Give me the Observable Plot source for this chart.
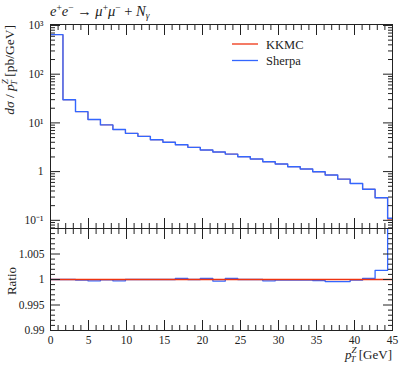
<!DOCTYPE html>
<html>
<head>
<meta charset="utf-8">
<script src="https://cdn.jsdelivr.net/npm/d3@7"></script>
<script src="https://cdn.jsdelivr.net/npm/@observablehq/plot@0.6"></script>
<style>
  body { margin: 0; background: white; }
  #chart { position: relative; width: 405px; height: 365px; font-family: "Liberation Serif", serif; }
  #chart svg { position: absolute; left: 0; overflow: visible; }
</style>
</head>
<body>
<div id="chart"></div>
<script>
// ---- data ----
const binEdges = [0, 1.64, 3.29, 4.93, 6.57, 8.21, 9.86, 11.5, 13.14, 14.79, 16.43, 18.07, 19.71, 21.36, 23,
  24.64, 26.29, 27.93, 29.57, 31.21, 32.86, 34.5, 36.14, 37.79, 39.43, 41.07, 42.71, 44.36, 46];
const sherpa = [650, 29.8, 17, 11.7, 9.1, 7.3, 6.1, 5.3, 4.5, 4.0, 3.57, 3.15, 2.77, 2.52, 2.29, 2.02,
  1.81, 1.59, 1.43, 1.26, 1.13, 0.99, 0.85, 0.70, 0.57, 0.435, 0.29, 0.11];
const kkmc = [650, 29.8, 17, 11.7, 9.1, 7.3, 6.1, 5.3, 4.5, 4.0, 3.57, 3.15, 2.77, 2.52, 2.29, 2.02,
  1.81, 1.59, 1.43, 1.26, 1.13, 0.99, 0.85, 0.70, 0.57, 0.435, 0.29, 0.105];
const ratioSherpa = [1.0000, 1.0000, 0.9999, 0.99975, 0.99995, 0.99975, 1.0000, 1.0000, 1.0000, 1.0000,
  1.0002, 1.0000, 1.0002, 0.9997, 1.0002, 1.0000, 1.0000, 0.99975, 0.9999, 0.9999, 0.9999, 0.9998,
  0.9996, 0.9996, 0.9999, 1.0002, 1.0018, 1.05];
const ratioKKMC = [1, 1, 1, 1, 1, 1, 1, 1, 1, 1, 1, 1, 1, 1, 1, 1, 1, 1, 1, 1, 1, 1, 1, 1, 1, 1, 1, 1];

const xMajor = [0, 5, 10, 15, 20, 25, 30, 35, 40, 45];
const xMinor = [1,2,3,4,6,7,8,9,11,12,13,14,16,17,18,19,21,22,23,24,26,27,28,29,31,32,33,34,36,37,38,39,41,42,43,44];
const yMajor = [0.1, 1, 10, 100, 1000];
const yMajorLabels = ["10⁻¹", "1", "10¹", "10²", "10³"];
const yMinor = [0.07,0.08,0.09,0.2,0.3,0.4,0.5,0.6,0.7,0.8,0.9,2,3,4,5,6,7,8,9,20,30,40,50,60,70,80,90,200,300,400,500,600,700,800,900];
const rMajor = [0.99, 0.995, 1, 1.005, 1.01];
const rMajorLabels = ["0.99", "0.995", "1", "1.005", ""];
const rMinor = [0.991,0.992,0.993,0.994,0.996,0.997,0.998,0.999,1.001,1.002,1.003,1.004,1.006,1.007,1.008,1.009];
const series = [
  {name: "KKMC", color: "#ee3311"},
  {name: "Sherpa", color: "#3366ff"}
];

function steps(vals) {
  return binEdges.map((x, i) => ({x, y: vals[Math.min(i, vals.length - 1)]}));
}

const TICK = "#222";
const style = {fontFamily: "Liberation Serif, serif", fontSize: "11.5px", color: "#222", background: "white"};
const common = {width: 405, marginLeft: 50, marginRight: 13, style, x: {domain: [0, 45]}};

function xAxes(anchor, withLabels) {
  return [
    Plot.axisX(xMajor, {anchor, tickSize: -10, stroke: TICK, tickFormat: withLabels ? (d => String(d)) : (() => ""), tickPadding: 15, label: null}),
    Plot.axisX(xMinor, {anchor, tickSize: -5, stroke: TICK, tickFormat: () => "", label: null})
  ];
}

const main = Plot.plot({
  ...common,
  height: 228, marginTop: 24, marginBottom: 0,
  y: {type: "log", domain: [Math.pow(10, -1.168), Math.pow(10, 3.02)]},
  marks: [
    Plot.line(steps(kkmc), {x: "x", y: "y", stroke: series[0].color, strokeWidth: 0.8, curve: "step-after", clip: true}),
    Plot.line(steps(sherpa), {x: "x", y: "y", stroke: series[1].color, strokeWidth: 1.4, curve: "step-after", clip: true}),
    ...xAxes("top", false),
    ...xAxes("bottom", false),
    Plot.axisY(yMajor, {anchor: "left", tickSize: -10, stroke: TICK, tickPadding: 17, tickFormat: d => yMajorLabels[yMajor.indexOf(d)], label: null}),
    Plot.axisY(yMinor, {anchor: "left", tickSize: -5, stroke: TICK, tickFormat: () => "", label: null}),
    Plot.axisY(yMajor, {anchor: "right", tickSize: -10, stroke: TICK, tickFormat: () => "", label: null}),
    Plot.axisY(yMinor, {anchor: "right", tickSize: -5, stroke: TICK, tickFormat: () => "", label: null}),
    Plot.frame({stroke: TICK})
  ]
});

const ratio = Plot.plot({
  ...common,
  height: 137, marginTop: 0, marginBottom: 35,
  y: {domain: [0.99, 1.01]},
  marks: [
    Plot.line(steps(ratioSherpa), {x: "x", y: "y", stroke: series[1].color, strokeWidth: 1.3, curve: "step-after", clip: true}),
    Plot.line(steps(ratioKKMC), {x: "x", y: "y", stroke: series[0].color, strokeWidth: 1.3, curve: "step-after", clip: true}),
    ...xAxes("top", false),
    ...xAxes("bottom", true),
    Plot.axisY(rMajor, {anchor: "left", tickSize: -10, stroke: TICK, tickPadding: 16, tickFormat: d => rMajorLabels[rMajor.indexOf(d)], label: null}),
    Plot.axisY(rMinor, {anchor: "left", tickSize: -5, stroke: TICK, tickFormat: () => "", label: null}),
    Plot.axisY(rMajor, {anchor: "right", tickSize: -10, stroke: TICK, tickFormat: () => "", label: null}),
    Plot.axisY(rMinor, {anchor: "right", tickSize: -5, stroke: TICK, tickFormat: () => "", label: null}),
    Plot.frame({stroke: TICK})
  ]
});

const chart = document.getElementById("chart");
main.style.top = "0px";
ratio.style.top = "228px";
chart.append(main, ratio);

const FONT = "Liberation Serif, serif";
// Title
const ms = d3.select(main);
const title = ms.append("text").attr("x", 50).attr("y", 16).attr("text-anchor", "start")
  .attr("font-family", FONT).attr("font-size", 14.5).attr("fill", "#222");
title.append("tspan").attr("font-style", "italic").text("e");
title.append("tspan").attr("font-size", 9.5).attr("dy", -5).text("+");
title.append("tspan").attr("font-style", "italic").attr("dy", 5).text("e");
title.append("tspan").attr("font-size", 9.5).attr("dy", -5).text("−");
title.append("tspan").attr("dy", 5).text(" → ");
title.append("tspan").attr("font-style", "italic").text("μ");
title.append("tspan").attr("font-size", 9.5).attr("dy", -5).text("+");
title.append("tspan").attr("font-style", "italic").attr("dy", 5).text("μ");
title.append("tspan").attr("font-size", 9.5).attr("dy", -5).text("−");
title.append("tspan").attr("dy", 5).text(" + ");
title.append("tspan").attr("font-style", "italic").text("N");
title.append("tspan").attr("font-style", "italic").attr("font-size", 9.5).attr("dy", 3).text("γ");

// Y label (main)
const yl = ms.append("text").attr("transform", "translate(14,25) rotate(-90)").attr("text-anchor", "end")
  .attr("font-family", FONT).attr("font-size", 13.5).attr("fill", "#222");
yl.append("tspan").attr("font-style", "italic").text("dσ");
yl.append("tspan").text(" / ");
yl.append("tspan").attr("font-style", "italic").text("p");
yl.append("tspan").attr("font-style", "italic").attr("font-size", 9).attr("dy", -6).text("Z");
yl.append("tspan").attr("font-style", "italic").attr("font-size", 9).attr("dx", -6).attr("dy", 9).text("T");
yl.append("tspan").attr("dy", -3).text(" [pb/GeV]");

// Legend
series.forEach((s, i) => {
  const y = 44 + i * 16.5;
  ms.append("line").attr("x1", 232).attr("x2", 258).attr("y1", y).attr("y2", y).attr("stroke", s.color).attr("stroke-width", 1.3);
  ms.append("text").attr("x", 266).attr("y", y + 4.5).attr("text-anchor", "start")
    .attr("font-family", FONT).attr("font-size", 12.5).attr("fill", "#222").text(s.name);
});

// Ratio panel labels
const rs = d3.select(ratio);
rs.append("text").attr("transform", "translate(16,53) rotate(-90)").attr("text-anchor", "middle")
  .attr("font-family", FONT).attr("font-size", 13).attr("fill", "#222").text("Ratio");
const xl = rs.append("text").attr("x", 392).attr("y", 131).attr("text-anchor", "end")
  .attr("font-family", FONT).attr("font-size", 13).attr("fill", "#222");
xl.append("tspan").attr("font-style", "italic").text("p");
xl.append("tspan").attr("font-style", "italic").attr("font-size", 9).attr("dy", -6).text("Z");
xl.append("tspan").attr("font-style", "italic").attr("font-size", 9).attr("dx", -6).attr("dy", 9).text("T");
xl.append("tspan").attr("dy", -3).text(" [GeV]");
</script>
</body>
</html>
